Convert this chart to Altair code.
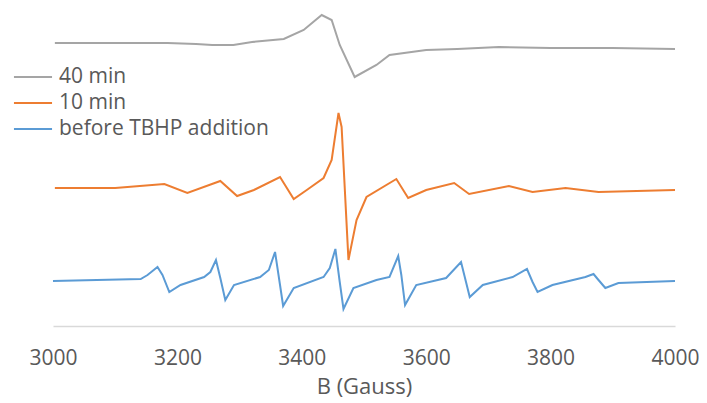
import altair as alt
import pandas as pd

# Series labels (legend order) and colours
series_names = ["40 min", "10 min", "before TBHP addition"]
series_colors = ["#a5a5a5", "#ed7d31", "#5b9bd5"]

# Field values B (Gauss) and signal (arbitrary units, offset traces)
b_40 = [3003, 3100, 3184, 3230, 3256, 3290, 3320, 3371, 3403, 3432, 3448, 3461,
        3485, 3520, 3541, 3600, 3650, 3717, 3800, 3900, 4000]
s_40 = [283, 283, 283, 282, 281, 281, 284, 287, 296, 311, 306, 281,
        249, 261, 271, 276, 277, 279, 278, 278, 277]

b_10 = [3003, 3100, 3179, 3216, 3269, 3296, 3323, 3365, 3387, 3408, 3435, 3448,
        3459, 3464, 3475, 3488, 3504, 3552, 3571, 3600, 3645, 3669, 3733, 3771,
        3824, 3877, 4000]
s_10 = [138, 138, 142, 133, 145, 130, 136, 149, 127, 136, 148, 166,
        213, 199, 66, 106, 129, 147, 128, 136, 143, 132, 140, 134,
        138, 134, 136]

b_0 = [3000, 3141, 3152, 3168, 3176, 3187, 3205, 3243, 3253, 3262, 3269, 3277,
       3291, 3333, 3347, 3357, 3365, 3370, 3387, 3435, 3445, 3454, 3461, 3467,
       3483, 3520, 3541, 3555, 3560, 3566, 3584, 3632, 3656, 3664, 3670, 3691,
       3739, 3762, 3771, 3779, 3803, 3856, 3869, 3877, 3888, 3909, 4000]
s_0 = [45, 47, 51, 59, 51, 34, 41, 49, 54, 66, 48, 26,
       41, 49, 56, 74, 41, 20, 38, 49, 58, 77, 44, 17,
       38, 46, 49, 70, 51, 21, 41, 48, 64, 44, 29, 41,
       49, 57, 44, 34, 41, 49, 52, 46, 38, 43, 45]

x_ticks = [3000, 3200, 3400, 3600, 3800, 4000]

rows = []
for name, bs, ss in [(series_names[0], b_40, s_40),
                     (series_names[1], b_10, s_10),
                     (series_names[2], b_0, s_0)]:
    for b, s in zip(bs, ss):
        rows.append({"series": name, "B": b, "signal": s})
df = pd.DataFrame(rows)

FONT = "Open Sans"
TXT = "#595959"

chart = alt.Chart(df).mark_line(strokeWidth=2).encode(
    x=alt.X("B:Q",
            scale=alt.Scale(domain=[3000, 4000], nice=False, zero=False),
            axis=alt.Axis(values=x_ticks, format="d", title="B (Gauss)",
                          grid=False, ticks=False, tickSize=0,
                          domainColor="#d9d9d9", domainWidth=1.5,
                          labelFont=FONT, labelFontSize=21, labelColor=TXT,
                          labelPadding=21, labelFlush=False,
                          titleFont=FONT, titleFontSize=22, titleColor=TXT,
                          titleFontWeight="normal", titlePadding=8)),
    y=alt.Y("signal:Q", scale=alt.Scale(domain=[0, 316], nice=False, zero=False),
            axis=None),
    color=alt.Color("series:N",
                    scale=alt.Scale(domain=series_names, range=series_colors),
                    sort=series_names,
                    legend=alt.Legend(title=None, orient="none",
                                      legendX=-35, legendY=52,
                                      symbolType="M-1.36,0H1.36", symbolSize=784,
                                      symbolStrokeWidth=2, labelOffset=11,
                                      labelFont=FONT, labelFontSize=21,
                                      labelColor=TXT, rowPadding=1,
                                      padding=0, labelLimit=400)),
    detail="series:N",
).properties(
    width=622, height=316,
    autosize=alt.AutoSizeParams(type="none"),
    padding={"left": 45, "top": 2, "right": 24, "bottom": 75},
).configure_view(stroke=None)

chart.save("out.html", embed_options={"renderer": "svg", "actions": False})
